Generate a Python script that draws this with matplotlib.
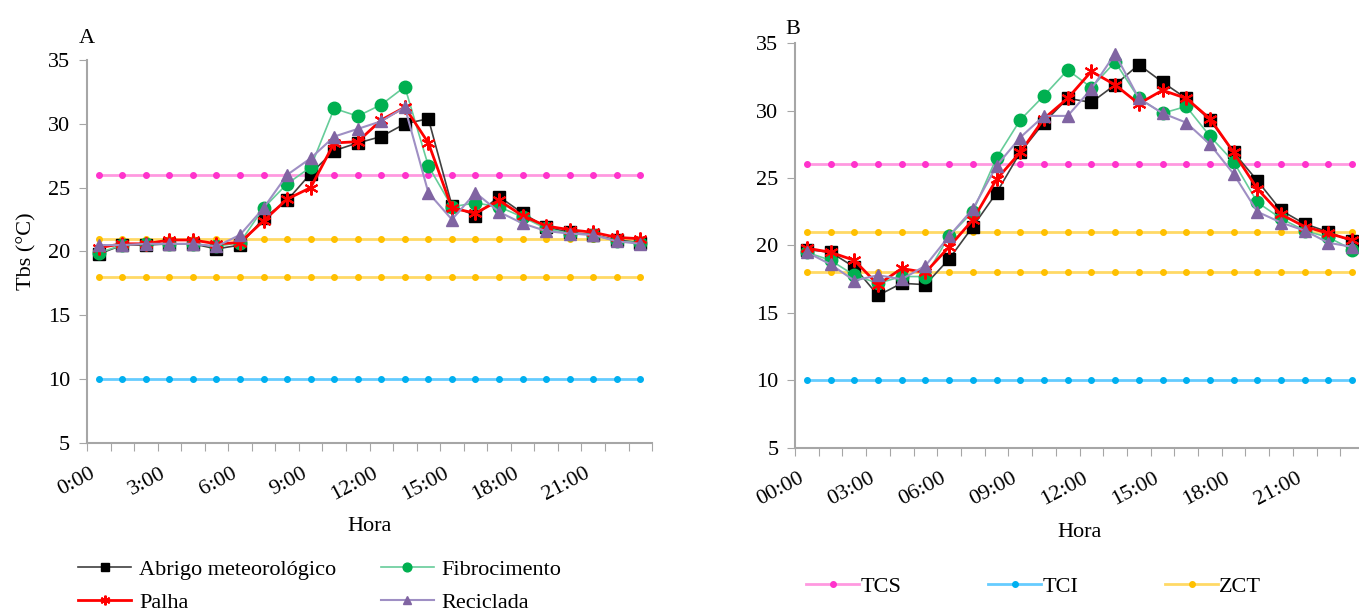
import numpy as np
import matplotlib
matplotlib.use('Agg')
import matplotlib.pyplot as plt

plt.rcParams['font.family'] = ['Liberation Serif', 'DejaVu Serif']

# hourly categories (24 points)
hours = np.arange(24)
labelsA = ['0:00', '3:00', '6:00', '9:00', '12:00', '15:00', '18:00', '21:00']
labelsB = ['00:00', '03:00', '06:00', '09:00', '12:00', '15:00', '18:00', '21:00']

# panel A
abrigoA = [19.8, 20.5, 20.5, 20.6, 20.6, 20.2, 20.5, 22.6, 24.0, 26.1, 27.9, 28.5, 29.0, 30.0,
           30.4, 23.6, 22.8, 24.3, 23.0, 21.9, 21.5, 21.3, 20.9, 20.7]
fibroA = [19.9, 20.5, 20.6, 20.6, 20.6, 20.4, 20.7, 23.4, 25.3, 26.6, 31.2, 30.6, 31.5, 32.9,
          26.7, 23.5, 23.8, 23.5, 22.7, 21.8, 21.4, 21.3, 20.8, 20.7]
palhaA = [20.3, 20.6, 20.6, 20.9, 20.9, 20.6, 20.7, 22.4, 24.1, 25.0, 28.5, 28.6, 30.3, 31.3,
          28.5, 23.4, 23.0, 24.0, 22.8, 22.0, 21.7, 21.5, 21.1, 21.0]
recicA = [20.5, 20.5, 20.6, 20.6, 20.6, 20.4, 21.3, 23.4, 26.0, 27.3, 29.0, 29.6, 30.2, 31.3,
          24.6, 22.5, 24.6, 23.1, 22.2, 21.6, 21.4, 21.3, 20.8, 20.6]

# panel B
abrigoB = [19.7, 19.5, 18.4, 16.3, 17.2, 17.1, 19.0, 21.4, 23.9, 26.9, 29.1, 30.9, 30.6, 31.9,
           33.4, 32.1, 30.9, 29.3, 26.9, 24.8, 22.6, 21.6, 21.0, 20.3]
fibroB = [19.5, 18.9, 17.8, 17.2, 17.7, 17.7, 20.7, 22.5, 26.5, 29.3, 31.1, 33.0, 31.7, 33.6,
          30.9, 29.8, 30.3, 28.1, 26.2, 23.2, 22.0, 21.1, 20.6, 19.7]
palhaB = [19.8, 19.5, 18.9, 17.1, 18.3, 18.0, 19.9, 21.9, 24.9, 26.9, 29.4, 30.9, 32.9, 31.9,
          30.5, 31.5, 30.9, 29.4, 26.9, 24.2, 22.3, 21.4, 20.9, 20.4]
recicB = [19.5, 18.6, 17.4, 17.8, 17.5, 18.5, 20.7, 22.7, 25.9, 28.0, 29.6, 29.6, 31.6, 34.2,
          30.9, 29.8, 29.1, 27.5, 25.3, 22.5, 21.7, 21.1, 20.2, 19.9]

# limits
tcs = 26
tci = 10
zct = [21, 18]

series_style = {
    'Abrigo meteorológico': dict(color='#404040', marker='s', mfc='black', mec='black', ms=8, lw=1.2),
    'Fibrocimento': dict(color='#66CC99', marker='o', mfc='#00B050', mec='#00B050', ms=9, lw=1.2),
    'Palha': dict(color='#FF0000', marker=(6, 2, 0), mfc='#FF0000', mec='#FF0000', ms=10, mew=1.5, lw=2),
    'Reciclada': dict(color='#9F8FC4', marker='^', mfc='#8064A2', mec='#8064A2', ms=9, lw=1.5),
}
ref_style = {
    'TCS': dict(color='#FF99E0', marker='o', mfc='#FF33CC', mec='#FF33CC', ms=4, lw=2),
    'TCI': dict(color='#66CCFF', marker='o', mfc='#00B0F0', mec='#00B0F0', ms=4, lw=2),
    'ZCT': dict(color='#FFD966', marker='o', mfc='#FFC000', mec='#FFC000', ms=4, lw=2),
}

fig = plt.figure(figsize=(13.59, 6.10), dpi=100)
axA = fig.add_axes([0.064, 0.2738, 0.4158, 0.6279])
axB = fig.add_axes([0.585, 0.2656, 0.4187, 0.6639])


def draw(ax, data, labels):
    lines = {}
    for name, val in [('TCS', tcs), ('TCI', tci)]:
        lines[name], = ax.plot(hours, [val] * 24, **ref_style[name])
    for val in zct:
        lines['ZCT'], = ax.plot(hours, [val] * 24, **ref_style['ZCT'])
    for name, vals in data:
        lines[name], = ax.plot(hours, vals, **series_style[name])
    ax.set_xlim(-0.5, 23.5)
    ax.set_ylim(5, 35)
    ax.set_yticks(range(5, 36, 5))
    ax.set_xticks(np.arange(-0.5, 24, 1))
    ax.set_xticklabels([])
    ax.set_xticks(hours[::3], minor=True)
    ax.set_xticklabels(labels, minor=True, rotation=28, ha='right', fontsize=16)
    ax.tick_params(axis='x', which='major', length=6, color='#A6A6A6', direction='out')
    ax.tick_params(axis='x', which='minor', length=0, pad=15)
    ax.tick_params(axis='y', length=6, color='#A6A6A6', labelsize=16, pad=6)
    for s in ['top', 'right']:
        ax.spines[s].set_visible(False)
    for s in ['left', 'bottom']:
        ax.spines[s].set_color('#A6A6A6')
        ax.spines[s].set_linewidth(1.5)
    return lines


lA = draw(axA, [('Abrigo meteorológico', abrigoA), ('Fibrocimento', fibroA),
                ('Palha', palhaA), ('Reciclada', recicA)], labelsA)
lB = draw(axB, [('Abrigo meteorológico', abrigoB), ('Fibrocimento', fibroB),
                ('Palha', palhaB), ('Reciclada', recicB)], labelsB)

axA.set_xlabel('Hora', fontsize=16, labelpad=9)
axB.set_xlabel('Hora', fontsize=16, labelpad=10)
axA.set_ylabel('Tbs (°C)', fontsize=16, labelpad=8)
fig.text(0.058, 0.93, 'A', fontsize=16)
fig.text(0.578, 0.945, 'B', fontsize=16)

order = ['Abrigo meteorológico', 'Palha', 'Fibrocimento', 'Reciclada']
legA = fig.legend([lA[n] for n in order], order, ncol=2, loc='upper left',
                  bbox_to_anchor=(0.0574, 0.083), frameon=False, fontsize=16,
                  handlelength=2.4, handletextpad=0.35, columnspacing=2.0,
                  labelspacing=0.55, borderpad=0, borderaxespad=0, markerscale=0.7)

refs = ['TCS', 'TCI', 'ZCT']
legB = fig.legend([lB[n] for n in refs], refs, ncol=3, loc='upper left',
                  bbox_to_anchor=(0.593, 0.0557), frameon=False, fontsize=16,
                  handlelength=2.4, handletextpad=0.05, columnspacing=3.9,
                  borderpad=0, borderaxespad=0)

fig.savefig('out.png', dpi=100)
